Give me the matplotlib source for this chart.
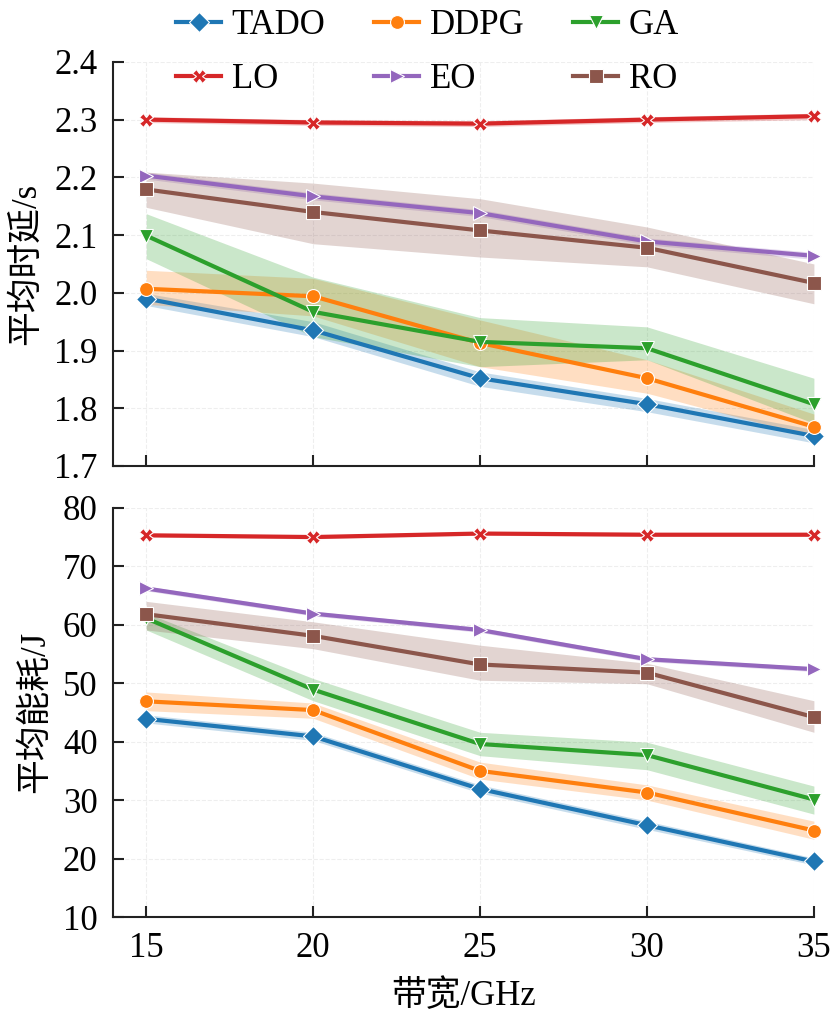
import matplotlib
matplotlib.use('Agg')
import matplotlib.pyplot as plt
import numpy as np

plt.rcParams['font.family'] = ['Liberation Serif', 'Noto Sans CJK SC']
plt.rcParams['axes.unicode_minus'] = False

# bandwidth (GHz)
bandwidth = [15, 20, 25, 30, 35]
methods = ['TADO', 'DDPG', 'GA', 'LO', 'EO', 'RO']
colors = ['#1f77b4', '#ff7f0e', '#2ca02c', '#d62728', '#9467bd', '#8c564b']
markers = ['D', 'o', 'v', 'X', '>', 's']

# average delay (s): mean, lower, upper
delay_mean = {
    'TADO': [1.990, 1.935, 1.852, 1.807, 1.752],
    'DDPG': [2.007, 1.994, 1.913, 1.852, 1.768],
    'GA':   [2.099, 1.967, 1.915, 1.904, 1.807],
    'LO':   [2.300, 2.295, 2.293, 2.300, 2.306],
    'EO':   [2.203, 2.167, 2.138, 2.089, 2.064],
    'RO':   [2.179, 2.140, 2.108, 2.078, 2.017],
}
delay_low = {
    'TADO': [1.978, 1.924, 1.838, 1.794, 1.740],
    'DDPG': [1.980, 1.960, 1.872, 1.826, 1.750],
    'GA':   [2.059, 1.924, 1.872, 1.884, 1.774],
    'LO':   [2.295, 2.290, 2.288, 2.295, 2.300],
    'EO':   [2.197, 2.161, 2.132, 2.083, 2.058],
    'RO':   [2.148, 2.085, 2.062, 2.045, 1.981],
}
delay_high = {
    'TADO': [1.999, 1.950, 1.863, 1.817, 1.763],
    'DDPG': [2.039, 2.025, 1.953, 1.884, 1.790],
    'GA':   [2.137, 2.027, 1.957, 1.941, 1.852],
    'LO':   [2.305, 2.300, 2.298, 2.305, 2.311],
    'EO':   [2.209, 2.173, 2.144, 2.095, 2.070],
    'RO':   [2.209, 2.190, 2.163, 2.114, 2.050],
}

# average energy (J): mean, lower, upper
energy_mean = {
    'TADO': [43.9, 40.9, 31.9, 25.7, 19.5],
    'DDPG': [46.9, 45.4, 35.0, 31.3, 24.8],
    'GA':   [61.1, 48.9, 39.6, 37.7, 30.1],
    'LO':   [75.3, 75.0, 75.6, 75.4, 75.4],
    'EO':   [66.2, 61.9, 59.1, 54.1, 52.4],
    'RO':   [61.8, 58.1, 53.2, 51.8, 44.2],
}
energy_low = {
    'TADO': [43.2, 40.2, 31.2, 25.0, 18.9],
    'DDPG': [45.3, 44.0, 33.6, 30.0, 23.3],
    'GA':   [59.1, 47.0, 37.6, 35.2, 27.6],
    'LO':   [75.0, 74.7, 75.3, 75.1, 75.1],
    'EO':   [65.8, 61.5, 58.7, 53.7, 52.0],
    'RO':   [59.1, 55.9, 50.5, 49.9, 41.6],
}
energy_high = {
    'TADO': [44.6, 41.6, 32.6, 26.4, 20.1],
    'DDPG': [48.5, 46.6, 36.5, 32.6, 26.4],
    'GA':   [62.0, 50.8, 41.6, 39.9, 32.4],
    'LO':   [75.6, 75.3, 75.9, 75.7, 75.7],
    'EO':   [66.6, 62.3, 59.5, 54.5, 52.8],
    'RO':   [64.0, 60.5, 56.5, 53.4, 47.0],
}

fs = 25
fig = plt.figure(figsize=(8.3, 10.23), dpi=100)
ax1 = fig.add_axes([0.136, 0.5445, 0.8446, 0.395])
ax2 = fig.add_axes([0.136, 0.1036, 0.8446, 0.4])


def draw(ax, mean, low, high):
    for m, c, mk in zip(methods, colors, markers):
        ax.fill_between(bandwidth, low[m], high[m], color=c, alpha=0.25, lw=0)
        ax.plot(bandwidth, mean[m], color=c, marker=mk, lw=3, ms=10,
                mec='white', mew=0.8, label=m, clip_on=False)
    for s in ['top', 'right']:
        ax.spines[s].set_visible(False)
    for s in ['left', 'bottom']:
        ax.spines[s].set_linewidth(1.5)
        ax.spines[s].set_color('#222222')
    ax.grid(True, color='#eeeeee', lw=0.8, ls='--')
    ax.set_axisbelow(True)
    ax.set_xlim(14, 35)
    ax.set_xticks(bandwidth)
    ax.tick_params(direction='in', length=8, width=1.5, labelsize=fs, pad=11,
                   color='#222222')


draw(ax1, delay_mean, delay_low, delay_high)
draw(ax2, energy_mean, energy_low, energy_high)

ax1.set_ylim(1.7, 2.4)
ax1.set_yticks(np.arange(1.7, 2.41, 0.1))
ax1.set_yticklabels(['1.7', '1.8', '1.9', '2.0', '2.1', '2.2', '2.3', '2.4'])
ax1.tick_params(axis='x', labelbottom=False)
ax1.set_ylabel('平均时延/s', fontsize=fs, labelpad=8)

ax2.set_ylim(10, 80)
ax2.set_yticks(range(10, 81, 10))
ax2.set_ylabel('平均能耗/J', fontsize=fs, labelpad=8)
ax2.set_xlabel('带宽/GHz', fontsize=fs, labelpad=10)

# legend is filled column by column, so interleave to get rows TADO/DDPG/GA, LO/EO/RO
handles, labels = ax1.get_legend_handles_labels()
order = [0, 3, 1, 4, 2, 5]
fig.legend([handles[i] for i in order], [labels[i] for i in order], ncol=3,
           loc='upper center', bbox_to_anchor=(0.515, 1.022), frameon=False,
           fontsize=fs, handlelength=1.3, handletextpad=0.3,
           columnspacing=1.4, labelspacing=0.62)

fig.savefig('out.png', dpi=100)
